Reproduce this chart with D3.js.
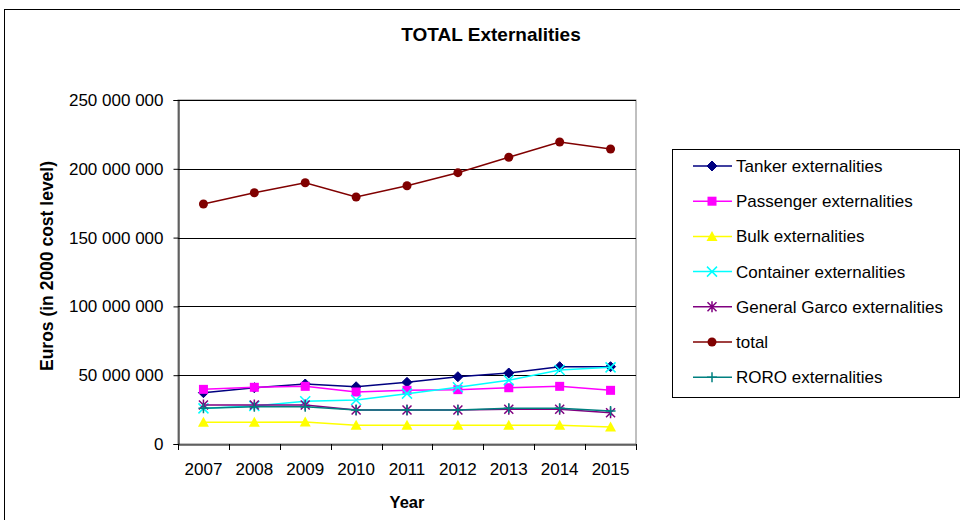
<!DOCTYPE html>
<html>
<head>
<meta charset="utf-8">
<script src="https://cdn.jsdelivr.net/npm/d3@7"></script>
<style>
  body { margin: 0; background: #fff; }
  svg { display: block; font-family: "Liberation Sans", Arial, sans-serif; }
</style>
</head>
<body>
<svg id="chart" width="960" height="520"></svg>
<script>
const width = 960, height = 520;

const years = ["2007", "2008", "2009", "2010", "2011", "2012", "2013", "2014", "2015"];
const yTicks = [0, 50e6, 100e6, 150e6, 200e6, 250e6];

const tanker    = [37.3e6, 40.9e6, 43.6e6, 41.6e6, 44.8e6, 48.9e6, 51.6e6, 56.2e6, 56.2e6];
const passenger = [39.7e6, 41.2e6, 41.9e6, 37.8e6, 39.0e6, 39.5e6, 40.9e6, 41.9e6, 39.0e6];
const bulk      = [15.8e6, 15.8e6, 16.0e6, 13.6e6, 13.6e6, 13.6e6, 13.6e6, 13.6e6, 12.4e6];
const container = [25.9e6, 27.6e6, 31.0e6, 32.0e6, 36.6e6, 41.2e6, 46.3e6, 53.8e6, 55.7e6];
const general   = [28.3e6, 28.3e6, 28.3e6, 24.7e6, 24.7e6, 24.7e6, 25.2e6, 25.2e6, 22.7e6];
const total     = [174.4e6, 182.6e6, 189.9e6, 179.5e6, 187.7e6, 197.2e6, 208.4e6, 219.5e6, 214.4e6];
const roro      = [25.9e6, 27.1e6, 27.1e6, 24.7e6, 24.7e6, 24.7e6, 25.9e6, 25.9e6, 24.0e6];

const series = [
  { name: "Tanker externalities",         values: tanker,    color: "#000080", marker: "diamond" },
  { name: "Passenger externalities",      values: passenger, color: "#ff00ff", marker: "square" },
  { name: "Bulk externalities",           values: bulk,      color: "#ffff00", marker: "triangle" },
  { name: "Container externalities",      values: container, color: "#00ffff", marker: "x" },
  { name: "General Garco externalities",  values: general,   color: "#800080", marker: "star" },
  { name: "total",                        values: total,     color: "#800000", marker: "circle" },
  { name: "RORO externalities",           values: roro,      color: "#008080", marker: "plus" }
];

const svg = d3.select("#chart");

// outer chart border (runs off the page on right/bottom)
svg.append("rect")
  .attr("x", 4.5).attr("y", 9.5)
  .attr("width", 980).attr("height", 540)
  .attr("fill", "#fff").attr("stroke", "#000").attr("stroke-width", 1);

const plot = { left: 178, right: 636, top: 100, bottom: 444 };

const x = d3.scaleBand().domain(years).range([plot.left, plot.right]);
const y = d3.scaleLinear().domain([0, 250e6]).range([plot.bottom, plot.top]);

// plot area border
svg.append("rect")
  .attr("x", plot.left).attr("y", plot.top)
  .attr("width", plot.right - plot.left).attr("height", plot.bottom - plot.top)
  .attr("fill", "none").attr("stroke", "#808080");

// gridlines
svg.append("g")
  .selectAll("line")
  .data(yTicks.filter(d => d > 0))
  .join("line")
  .attr("x1", plot.left).attr("x2", plot.right)
  .attr("y1", d => Math.round(y(d)) + 0.5).attr("y2", d => Math.round(y(d)) + 0.5)
  .attr("stroke", "#000");

const fmt = d => d3.format(",")(d).replace(/,/g, " ");

const yAxis = svg.append("g")
  .attr("transform", `translate(${plot.left + 0.5},0)`)
  .call(d3.axisLeft(y).tickValues(yTicks).tickFormat(fmt).tickSize(5).tickPadding(10));
yAxis.selectAll("text").attr("font-size", 17).attr("fill", "#000").attr("font-family", "Liberation Sans, Arial");
yAxis.selectAll("line, path").attr("stroke", "#000");

const xAxis = svg.append("g")
  .attr("transform", `translate(0,${plot.bottom + 0.5})`)
  .call(d3.axisBottom(x).tickSize(0).tickPadding(18));
xAxis.selectAll("text").attr("font-size", 17).attr("fill", "#000").attr("font-family", "Liberation Sans, Arial");
xAxis.select("path").attr("stroke", "#000");
// boundary tick marks between categories
svg.append("g")
  .selectAll("line")
  .data(d3.range(years.length + 1))
  .join("line")
  .attr("x1", i => Math.round(plot.left + i * x.step()) + 0.5)
  .attr("x2", i => Math.round(plot.left + i * x.step()) + 0.5)
  .attr("y1", plot.bottom).attr("y2", plot.bottom + 6)
  .attr("stroke", "#000");

// titles
svg.append("text").attr("x", 491).attr("y", 41).attr("text-anchor", "middle")
  .attr("font-size", 19).attr("font-weight", "bold").text("TOTAL Externalities");
svg.append("text").attr("x", 407).attr("y", 508).attr("text-anchor", "middle")
  .attr("font-size", 16.5).attr("font-weight", "bold").text("Year");
svg.append("text").attr("transform", "translate(53,266) rotate(-90)").attr("text-anchor", "middle")
  .attr("font-size", 17.5).attr("font-weight", "bold").text("Euros (in 2000 cost level)");

function drawMarker(g, type, color) {
  if (type === "diamond") {
    g.append("path").attr("d", "M0,-5L5,0L0,5L-5,0Z").attr("fill", color).attr("stroke", color);
  } else if (type === "square") {
    g.append("rect").attr("x", -4.5).attr("y", -4.5).attr("width", 9).attr("height", 9).attr("fill", color);
  } else if (type === "triangle") {
    g.append("path").attr("d", "M0,-5.5L5.5,4.5L-5.5,4.5Z").attr("fill", color);
  } else if (type === "x") {
    g.append("path").attr("d", "M-5,-5L5,5M-5,5L5,-5").attr("stroke", color).attr("stroke-width", 1.5);
  } else if (type === "star") {
    g.append("path").attr("d", "M-4.5,-4.5L4.5,4.5M-4.5,4.5L4.5,-4.5M0,-5.5L0,5.5").attr("stroke", color).attr("stroke-width", 1.5);
  } else if (type === "circle") {
    g.append("circle").attr("r", 4.5).attr("fill", color);
  } else if (type === "plus") {
    g.append("path").attr("d", "M-5,0L5,0M0,-5L0,5").attr("stroke", color).attr("stroke-width", 1.5);
  }
}

const line = d3.line()
  .x((d, i) => x(years[i]) + x.bandwidth() / 2)
  .y(d => y(d));

series.forEach(s => {
  svg.append("path")
    .datum(s.values)
    .attr("d", line)
    .attr("fill", "none")
    .attr("stroke", s.color)
    .attr("stroke-width", 1.5);
  s.values.forEach((v, i) => {
    const g = svg.append("g")
      .attr("transform", `translate(${x(years[i]) + x.bandwidth() / 2},${y(v)})`);
    drawMarker(g, s.marker, s.color);
  });
});

// legend
const legend = svg.append("g");
legend.append("rect")
  .attr("x", 672.5).attr("y", 149.5).attr("width", 287).attr("height", 248)
  .attr("fill", "#fff").attr("stroke", "#000");
series.forEach((s, i) => {
  const ly = 166 + i * 35.2;
  legend.append("line").attr("x1", 693).attr("x2", 732).attr("y1", ly).attr("y2", ly)
    .attr("stroke", s.color).attr("stroke-width", 1.5);
  const g = legend.append("g").attr("transform", `translate(712,${ly})`);
  drawMarker(g, s.marker, s.color);
  legend.append("text").attr("x", 736).attr("y", ly + 6).attr("font-size", 17).text(s.name);
});
</script>
</body>
</html>
